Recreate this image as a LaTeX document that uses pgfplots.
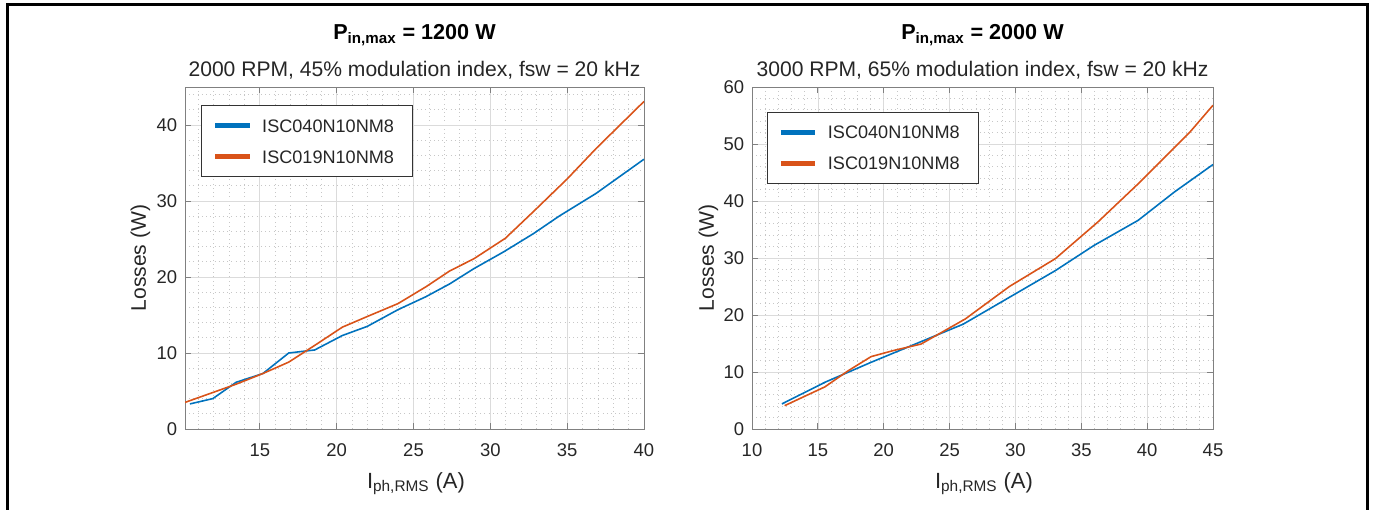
\documentclass[border=0pt]{standalone}
\usepackage{fontspec}
\setmainfont{Liberation Sans}
\usepackage{pgfplots}
\pgfplotsset{compat=1.18}

\definecolor{mblue}{RGB}{0,114,189}
\definecolor{morange}{RGB}{217,83,25}
\definecolor{axgray}{gray}{0.5}

\pgfplotsset{
  lossaxis/.style={
    scale only axis,
    anchor=south west,
    height=68.4mm,
    ymin=0,
    axis line style={axgray, line width=0.5pt},
    tick align=inside,
    tick style={axgray, line width=0.5pt},
    major tick length=1.2mm,
    minor tick length=0pt,
    grid=both,
    major grid style={black!14, line width=0.4pt},
    minor grid style={black!22, dotted, line width=0.4pt},
    tick label style={font=\fontsize{10.5}{12}\selectfont, text=black!85},
    /pgf/number format/assume math mode=true,
    xticklabel style={yshift=-5pt},
    yticklabel style={xshift=-1pt},
    legend cell align=left,
    legend style={anchor=north west, draw=black!80, line width=0.5pt,
      font=\fontsize{10.3}{12}\selectfont, text=black!85,
      inner xsep=2.3mm, inner ysep=2.0mm, row sep=2.2mm, column sep=1.4mm,
      nodes={text height=2.6mm, text depth=0pt, text width=27mm}},
    legend image code/.code={\draw[line width=2.4pt] (0mm,0mm) -- (6.9mm,0mm);},
    every axis plot/.append style={line width=0.9pt},
  }
}

\begin{document}
\begin{tikzpicture}
\useasboundingbox (0,0) rectangle (275mm,101.8mm);

% left panel
\begin{axis}[lossaxis, at={(37mm,16mm)}, width=91.8mm,
  xmin=10.13, xmax=40, ymax=45,
  xtick={15,20,...,40}, ytick={0,10,...,40},
  minor xtick={11,...,39}, minor ytick={2,4,...,44},
  legend style={at={(0.035,0.947)}}]
\addplot[mblue] coordinates {
  (10.45,3.3) (11.94,4.0) (13.46,6.15) (15.2,7.3) (16.88,10.0) (18.57,10.4)
  (20.37,12.3) (21.99,13.5) (23.99,15.7) (25.8,17.4) (27.36,19.1) (28.93,21.1)
  (30.86,23.3) (32.8,25.7) (34.47,28.0) (36.88,31.0) (40.0,35.5)};
\addlegendentry{ISC040N10NM8}
\addplot[morange] coordinates {
  (10.13,3.5) (11.94,4.8) (13.46,5.9) (15.2,7.3) (16.88,8.8) (18.57,11.0)
  (20.37,13.4) (21.99,14.8) (23.99,16.5) (25.8,18.7) (27.36,20.8) (28.93,22.4)
  (30.98,25.1) (32.8,28.6) (35.0,32.9) (36.88,36.9) (40.0,43.1)};
\addlegendentry{ISC019N10NM8}
\end{axis}

% right panel
\begin{axis}[lossaxis, at={(150.4mm,16mm)}, width=92.2mm,
  xmin=10, xmax=45, ymax=60,
  xtick={10,15,...,45}, ytick={0,10,...,60},
  minor xtick={11,...,44}, minor ytick={2,4,...,58},
  legend style={at={(0.032,0.927)}}]
\addplot[mblue] coordinates {
  (12.27,4.4) (15.54,8.2) (19.04,11.7) (23.12,15.6) (26.04,18.4) (29.54,23.1)
  (33.04,27.8) (35.96,32.2) (39.31,36.6) (42.08,41.6) (45,46.4)};
\addlegendentry{ISC040N10NM8}
\addplot[morange] coordinates {
  (12.48,4.1) (15.54,7.4) (17.29,10.2) (19.04,12.7) (20.79,13.8) (22.83,14.9)
  (26.19,19.3) (29.54,25.0) (33.04,29.9) (36.25,36.3) (39.31,43.0) (43.25,52.1)
  (45,56.8)};
\addlegendentry{ISC019N10NM8}
\end{axis}

% titles and labels
\node[anchor=base, font=\fontsize{12.3}{14}\selectfont\bfseries] at (82.9mm,93.8mm)
  {P\textsubscript{in,max} = 1200 W};
\node[anchor=base, font=\fontsize{12}{14}\selectfont, text=black!85] at (82.9mm,86.6mm)
  {2000 RPM, 45\% modulation index, fsw = 20 kHz};
\node[anchor=base, font=\fontsize{12.3}{14}\selectfont\bfseries] at (196.5mm,93.8mm)
  {P\textsubscript{in,max} = 2000 W};
\node[anchor=base, font=\fontsize{12}{14}\selectfont, text=black!85] at (196.5mm,86.6mm)
  {3000 RPM, 65\% modulation index, fsw = 20 kHz};

\node[anchor=base, font=\fontsize{12.5}{14}\selectfont, text=black!85] at (83.2mm,4.2mm)
  {I\textsubscript{ph,RMS} (A)};
\node[anchor=base, font=\fontsize{12.5}{14}\selectfont, text=black!85] at (196.8mm,4.2mm)
  {I\textsubscript{ph,RMS} (A)};
\node[rotate=90, font=\fontsize{12}{14}\selectfont, text=black!85] at (28.1mm,50.2mm)
  {Losses (W)};
\node[rotate=90, font=\fontsize{12}{14}\selectfont, text=black!85] at (141.7mm,50.2mm)
  {Losses (W)};

% outer frame
\draw[line width=0.6mm] (1.4mm,-2mm) -- (1.4mm,100.8mm) -- (273.4mm,100.8mm) -- (273.4mm,-2mm);
\end{tikzpicture}
\end{document}
